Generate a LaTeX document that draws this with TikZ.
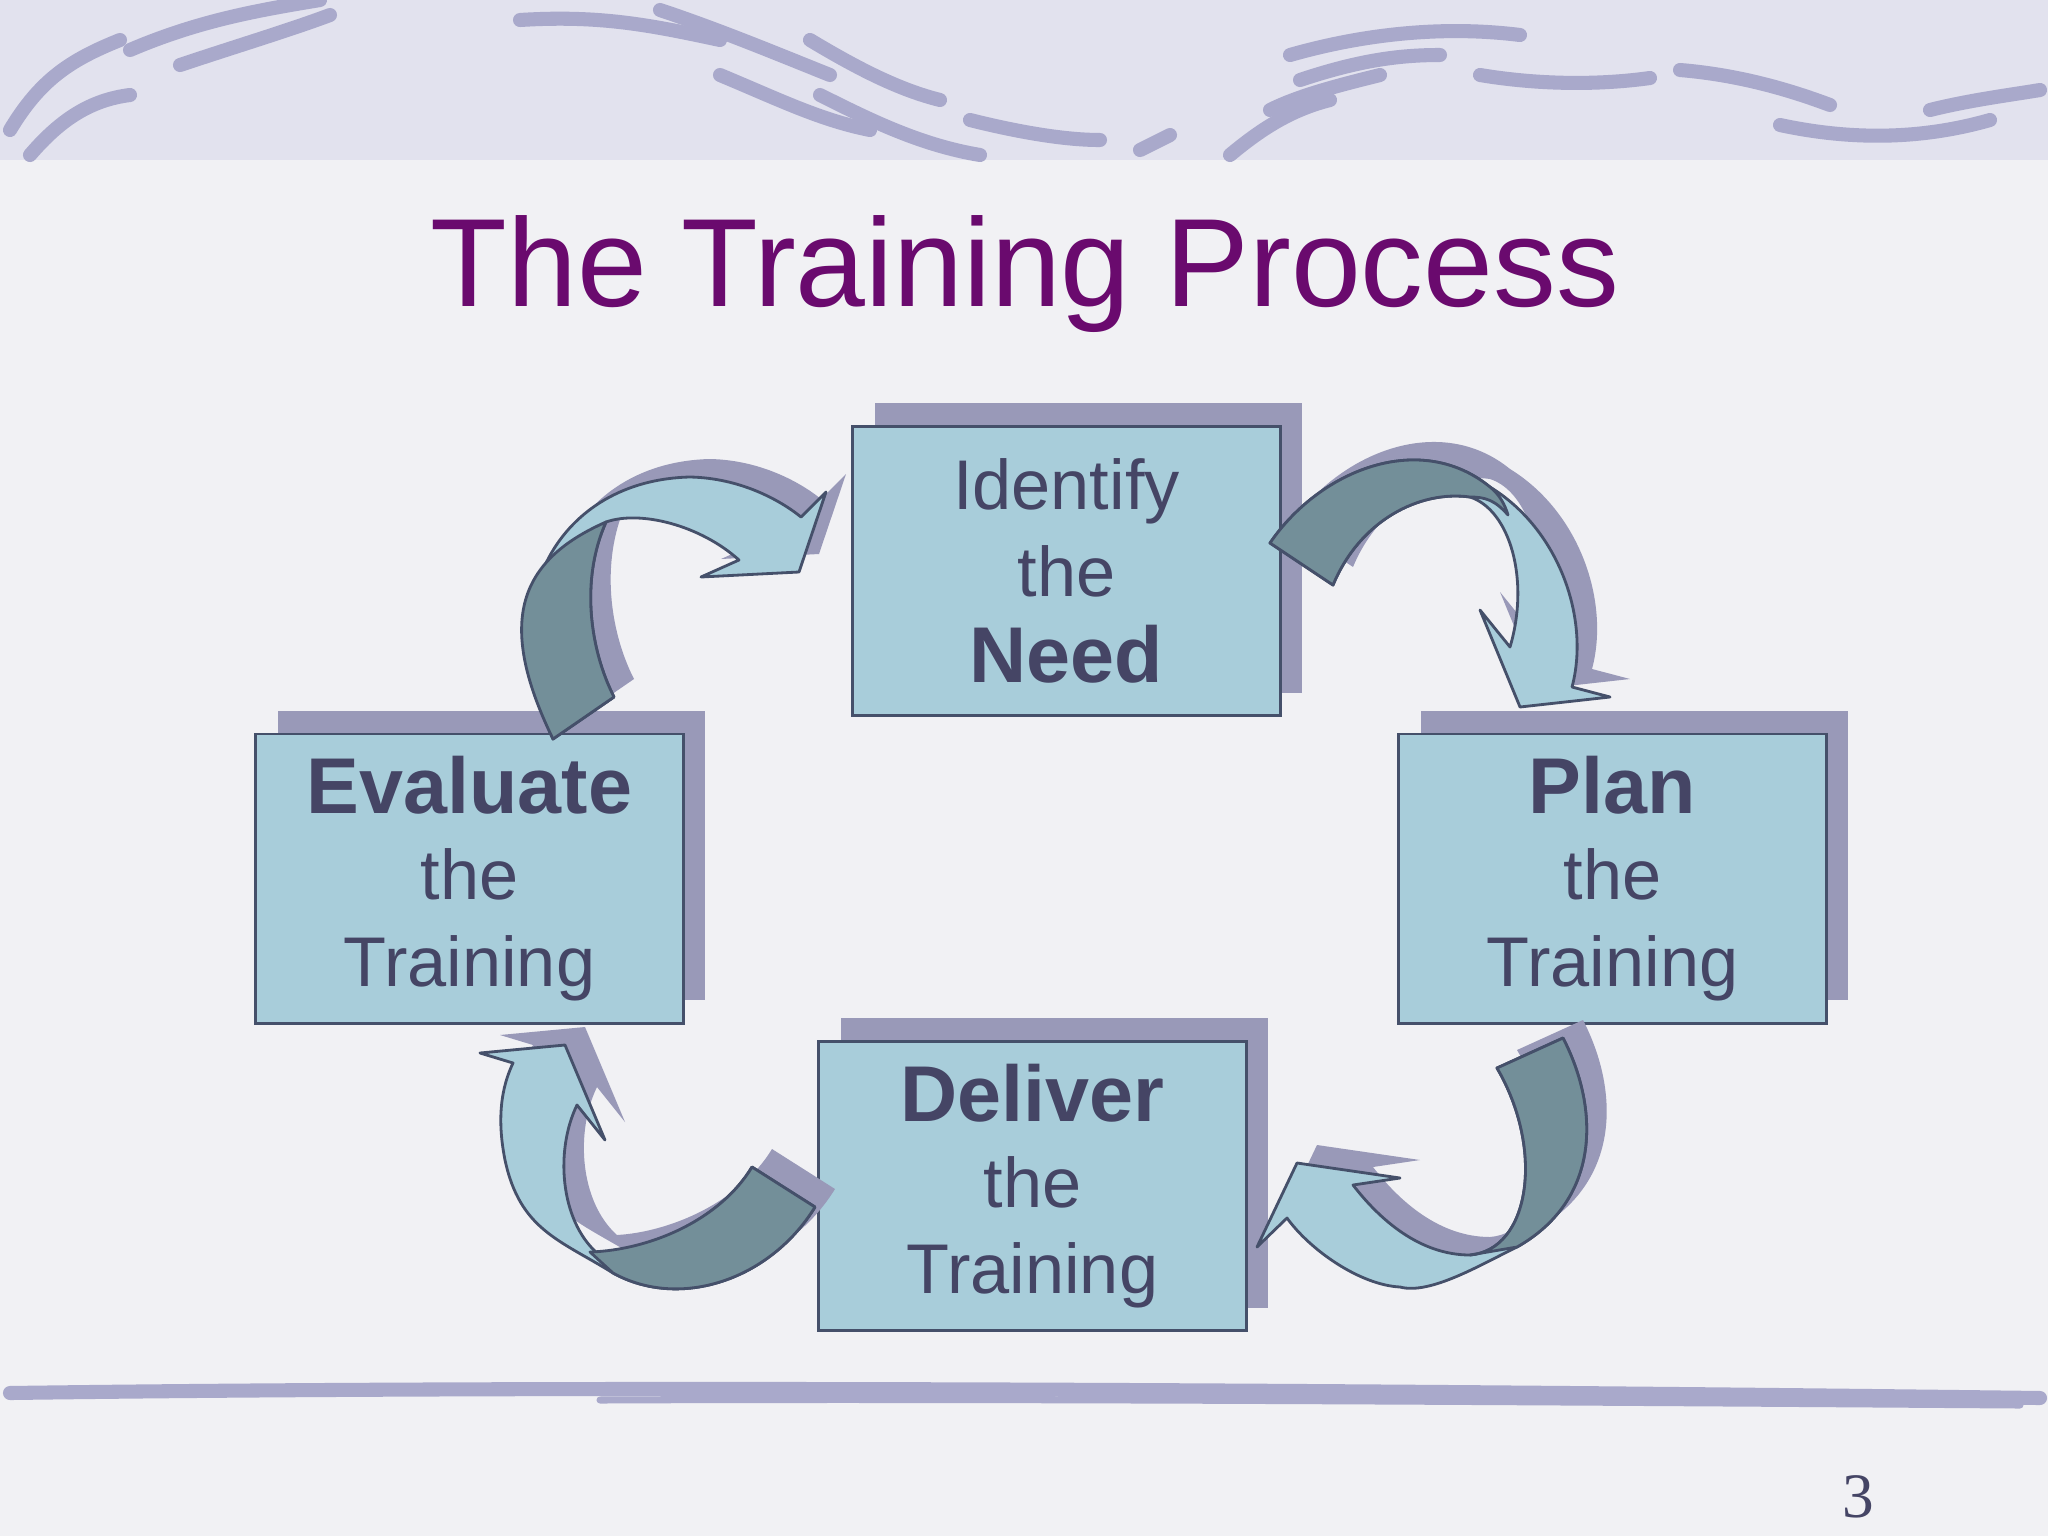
\documentclass[tikz,border=0pt]{standalone}
\usepackage{fontspec}
\setmainfont{Liberation Sans}
\newfontfamily\serifpn{Liberation Serif}
\newcommand{\bigb}[1]{{\fontsize{22.5}{24.5}\selectfont\textbf{#1}}}
\begin{document}
\begin{tikzpicture}[x=0.01cm,y=-0.01cm,
  boxst/.style={draw=boxline,fill=boxfill,line width=0.8pt,minimum width=4.27cm,minimum height=2.89cm,inner sep=0pt,align=center,text=txt,font=\fontsize{20}{24.5}\selectfont},
  shad/.style={fill=shadow},
  arw/.style={draw=boxline,fill=boxfill,line width=0.8pt,line join=round},
  dark/.style={draw=boxline,fill=darkteal,line width=0.8pt,line join=round},
  brush/.style={draw=stroke,line width=4pt,line cap=round}]
\definecolor{bg}{HTML}{F1F1F4}
\definecolor{band}{HTML}{E2E2EE}
\definecolor{stroke}{HTML}{A9A9CB}
\definecolor{boxfill}{HTML}{A8CDDA}
\definecolor{boxline}{HTML}{45506A}
\definecolor{shadow}{HTML}{9999B8}
\definecolor{darkteal}{HTML}{738F99}
\definecolor{txt}{HTML}{454565}
\definecolor{ttl}{HTML}{6A0A6E}
\useasboundingbox (0,0) rectangle (2048,1536);
\fill[bg] (0,0) rectangle (2048,1536);
\fill[band] (0,0) rectangle (2048,160);
% brush strokes top
\draw[brush] (10,130) .. controls (40,80) and (70,60) .. (120,40);
\draw[brush] (30,155) .. controls (60,120) and (90,100) .. (130,95);
\draw[brush] (130,50) .. controls (200,20) and (260,10) .. (320,0);
\draw[brush] (180,65) .. controls (240,45) and (290,30) .. (330,15);
\draw[brush] (520,20) .. controls (600,15) and (650,25) .. (720,40);
\draw[brush] (660,10) .. controls (720,30) and (780,55) .. (830,75);
\draw[brush] (720,75) .. controls (780,100) and (820,120) .. (870,130);
\draw[brush] (810,40) .. controls (860,70) and (900,90) .. (940,100);
\draw[brush] (820,95) .. controls (870,120) and (920,145) .. (980,155);
\draw[brush] (970,120) .. controls (1010,130) and (1060,140) .. (1100,140);
\draw[brush] (1140,150) -- (1170,135);
\draw[brush] (1230,155) .. controls (1260,130) and (1290,110) .. (1330,100);
\draw[brush] (1270,110) .. controls (1300,95) and (1340,85) .. (1380,75);
\draw[brush] (1290,55) .. controls (1360,35) and (1440,25) .. (1520,35);
\draw[brush] (1300,80) .. controls (1360,60) and (1400,55) .. (1440,55);
\draw[brush] (1480,75) .. controls (1540,85) and (1600,85) .. (1650,78);
\draw[brush] (1680,70) .. controls (1740,75) and (1790,90) .. (1830,105);
\draw[brush] (1780,125) .. controls (1850,140) and (1920,140) .. (1990,120);
\draw[brush] (1930,110) .. controls (1970,100) and (2010,95) .. (2040,90);
% bottom line
\draw[draw=stroke,line width=4pt,line cap=round] (10,1393) .. controls (600,1385) and (1400,1390) .. (2040,1398);
\draw[draw=stroke,line width=2pt,line cap=round] (600,1400) .. controls (1000,1398) and (1600,1402) .. (2020,1405);
% title
\node[text=ttl,font=\fontsize{35.7}{42}\selectfont] (title) at (1025,274) {The Training Process};
% shadows
\fill[shad] (875,403) rectangle (1302,693);
\fill[shad] (278,711) rectangle (705,1000);
\fill[shad] (1421,711) rectangle (1848,1000);
\fill[shad] (841,1018) rectangle (1268,1308);
% boxes
\node[boxst] (need) at (1066.5,571) {Identify\\the\\\bigb{Need}};
\node[boxst] (eval) at (469.5,878.5) {\bigb{Evaluate}\\the\\Training};
\node[boxst] (plan) at (1612.5,878.5) {\bigb{Plan}\\the\\Training};
\node[boxst] (deliv) at (1032.5,1186) {\bigb{Deliver}\\the\\Training};
% top-left arrow
\fill[shadow,shift={(20,-18)}] (553,739) .. controls (490,600) and (560,480) .. (690,477) .. controls (740,478) and (780,500) .. (801,517) -- (826,492) -- (799,572) -- (701,577) -- (739,560) .. controls (700,525) and (640,510) .. (606,522) .. controls (580,580) and (590,650) .. (614,697) -- cycle;
\path[arw] (553,739) .. controls (490,600) and (560,480) .. (690,477) .. controls (740,478) and (780,500) .. (801,517) -- (826,492) -- (799,572) -- (701,577) -- (739,560) .. controls (700,525) and (640,510) .. (606,522) .. controls (580,580) and (590,650) .. (614,697) -- cycle;
\path[dark] (553,739) .. controls (495,620) and (520,560) .. (606,522) .. controls (580,580) and (590,650) .. (614,697) -- cycle;
% top-right arrow
\fill[shadow,shift={(20,-18)}] (1270,543) .. controls (1320,470) and (1420,430) .. (1490,487) .. controls (1560,530) and (1590,620) .. (1572,687) -- (1610,697) -- (1520,707) -- (1480,610) -- (1510,647) .. controls (1530,580) and (1510,510) .. (1470,497) .. controls (1420,490) and (1360,520) .. (1333,585) -- cycle;
\path[arw] (1270,543) .. controls (1320,470) and (1420,430) .. (1490,487) .. controls (1560,530) and (1590,620) .. (1572,687) -- (1610,697) -- (1520,707) -- (1480,610) -- (1510,647) .. controls (1530,580) and (1510,510) .. (1470,497) .. controls (1420,490) and (1360,520) .. (1333,585) -- cycle;
\path[dark] (1270,543) .. controls (1320,470) and (1420,430) .. (1490,487) .. controls (1500,495) and (1505,505) .. (1508,515) .. controls (1495,500) and (1485,497) .. (1470,497) .. controls (1420,490) and (1360,520) .. (1333,585) -- cycle;
% bottom-right arrow
\fill[shadow,shift={(20,-18)}] (1497,1068) -- (1563,1038) .. controls (1600,1110) and (1600,1200) .. (1517,1247) .. controls (1480,1265) and (1430,1295) .. (1400,1287) .. controls (1360,1285) and (1310,1250) .. (1287,1218) -- (1257,1247) -- (1297,1163) -- (1400,1178) -- (1353,1185) .. controls (1380,1220) and (1420,1255) .. (1470,1255) .. controls (1530,1250) and (1545,1150) .. (1497,1068) -- cycle;
\path[arw] (1497,1068) -- (1563,1038) .. controls (1600,1110) and (1600,1200) .. (1517,1247) .. controls (1480,1265) and (1430,1295) .. (1400,1287) .. controls (1360,1285) and (1310,1250) .. (1287,1218) -- (1257,1247) -- (1297,1163) -- (1400,1178) -- (1353,1185) .. controls (1380,1220) and (1420,1255) .. (1470,1255) .. controls (1530,1250) and (1545,1150) .. (1497,1068) -- cycle;
\path[dark] (1497,1068) -- (1563,1038) .. controls (1600,1110) and (1600,1200) .. (1517,1247) -- (1470,1255) .. controls (1530,1250) and (1545,1150) .. (1497,1068) -- cycle;
% bottom-left arrow
\fill[shadow,shift={(20,-18)}] (752,1167) -- (815,1207) .. controls (770,1280) and (680,1310) .. (613,1273) .. controls (560,1240) and (520,1230) .. (505,1160) .. controls (495,1110) and (505,1080) .. (513,1063) -- (480,1053) -- (565,1045) -- (605,1140) -- (577,1105) .. controls (555,1150) and (560,1220) .. (597,1253) .. controls (650,1250) and (720,1220) .. (752,1167) -- cycle;
\path[arw] (752,1167) -- (815,1207) .. controls (770,1280) and (680,1310) .. (613,1273) .. controls (560,1240) and (520,1230) .. (505,1160) .. controls (495,1110) and (505,1080) .. (513,1063) -- (480,1053) -- (565,1045) -- (605,1140) -- (577,1105) .. controls (555,1150) and (560,1220) .. (597,1253) .. controls (650,1250) and (720,1220) .. (752,1167) -- cycle;
\path[dark] (752,1167) -- (815,1207) .. controls (770,1280) and (680,1310) .. (613,1273) -- (590,1252) .. controls (650,1250) and (720,1220) .. (752,1167) -- cycle;
% page number
\node[font=\serifpn\fontsize{18}{20}\selectfont,text=txt] (pn) at (1858,1497) {3};
\end{tikzpicture}
\end{document}
